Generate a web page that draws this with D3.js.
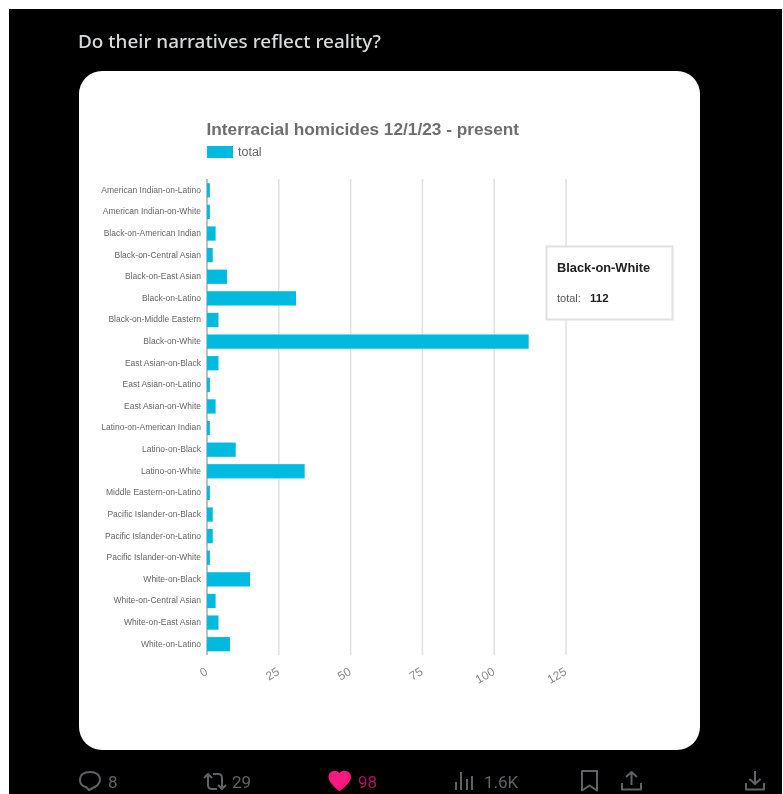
<!DOCTYPE html>
<html><head><meta charset="utf-8">
<script src="https://cdn.jsdelivr.net/npm/d3@7"></script>
<style>html,body{margin:0;padding:0;background:#fff;width:783px;height:794px;overflow:hidden}svg{display:block;filter:blur(0.75px)}</style>
</head><body><svg id="c" width="783" height="794"></svg>
<script>
const categories=["American Indian-on-Latino","American Indian-on-White","Black-on-American Indian","Black-on-Central Asian","Black-on-East Asian","Black-on-Latino","Black-on-Middle Eastern","Black-on-White","East Asian-on-Black","East Asian-on-Latino","East Asian-on-White","Latino-on-American Indian","Latino-on-Black","Latino-on-White","Middle Eastern-on-Latino","Pacific Islander-on-Black","Pacific Islander-on-Latino","Pacific Islander-on-White","White-on-Black","White-on-Central Asian","White-on-East Asian","White-on-Latino"];
const totals=[1,1,3,2,7,31,4,112,4,1,3,1,10,34,1,2,2,1,15,3,4,8];
const xTicks=[0,25,50,75,100,125];
const svg=d3.select("#c");
const barColor="#00bbdf";
svg.append("rect").attr("x",0).attr("y",0).attr("width",783).attr("height",794).attr("fill","#fff");
svg.append("rect").attr("x",9).attr("y",9).attr("width",773).attr("height",785).attr("fill","#000");
svg.append("text").attr("x",78).attr("y",48).attr("font-family","'Noto Sans', sans-serif").attr("font-weight",500).attr("font-size",18).attr("fill","#d8dadb").attr("textLength",303).attr("lengthAdjust","spacingAndGlyphs").text("Do their narratives reflect reality?");
svg.append("rect").attr("x",79).attr("y",71).attr("width",621).attr("height",679).attr("rx",23).attr("fill","#fff");
const x=d3.scaleLinear().domain([0,125]).range([207,566]);
const y=d3.scaleBand().domain(categories).range([179.5,655]).paddingInner(0.34).paddingOuter(0.17);
const grid=svg.append("g");
grid.selectAll("line").data(xTicks).join("line").attr("x1",d=>x(d)).attr("x2",d=>x(d)).attr("y1",179).attr("y2",655).attr("stroke",d=>d===0?"#aaa":"#e0e0e0").attr("stroke-width",1.5);
svg.append("g").selectAll("rect").data(categories).join("rect").attr("x",x(0)).attr("y",d=>y(d)).attr("height",y.bandwidth()).attr("width",(d,i)=>x(totals[i])-x(0)).attr("fill",barColor);
const f="Arial, 'Liberation Sans', sans-serif";
svg.append("g").selectAll("text").data(categories).join("text").attr("x",201).attr("y",d=>y(d)+y.bandwidth()/2+2.4).attr("text-anchor","end").attr("font-family",f).attr("font-size",8.5).attr("fill","#666").text(d=>d);
svg.append("g").selectAll("text").data(xTicks).join("text").attr("transform",d=>`translate(${x(d)+1.5},${674}) rotate(-30)`).attr("text-anchor","end").attr("font-family",f).attr("font-size",12).attr("fill","#888").text(d=>d);
svg.append("text").attr("x",206.5).attr("y",134.5).attr("font-family",f).attr("font-weight","bold").attr("font-size",17.25).attr("fill","#6e6e6e").text("Interracial homicides 12/1/23 - present");
svg.append("rect").attr("x",207).attr("y",146).attr("width",26).attr("height",12).attr("fill",barColor);
svg.append("text").attr("x",238).attr("y",156).attr("font-family",f).attr("font-size",12.5).attr("fill","#666").text("total");
const tip=svg.append("g");
tip.append("rect").attr("x",546.5).attr("y",246.5).attr("width",126).attr("height",73).attr("fill","#fff").attr("stroke","#e0e0e0").attr("stroke-width",2);
tip.append("text").attr("x",557).attr("y",271.5).attr("font-family",f).attr("font-weight","bold").attr("font-size",12.8).attr("fill","#222").text("Black-on-White");
const t2=tip.append("text").attr("x",557).attr("y",302).attr("font-family",f).attr("font-size",11).attr("fill","#555");
t2.append("tspan").text("total:");
t2.append("tspan").attr("x",590).attr("font-weight","bold").attr("font-size",11.5).attr("fill","#222").text("112");
// bottom action bar
const bar=svg.append("g").attr("font-family","Roboto, sans-serif").attr("font-size",17);
const grey="#5f6266";
const icon=(d,c,fill)=>bar.append("path").attr("d",d).attr("fill",fill?c:"none").attr("stroke",c).attr("stroke-width",2).attr("stroke-linejoin","round");
icon("M89 790 L86 787 C81 786 80 783 80 780 C80 775 84 772 90 772 C96 772 100 775 100 780 C100 785 95 787 89 790 Z",grey);
bar.append("text").attr("x",108).attr("y",788).attr("fill",grey).text("8");
icon("M204 778 L208 774 L212 778 M208 774 V785 Q208 789 212 789 H217 M226 785 L222 789 L218 785 M222 789 V778 Q222 774 218 774 H213",grey);
bar.append("text").attr("x",232).attr("y",788).attr("fill",grey).text("29");
icon("M339.5 790 C333 785 329.5 781 329.5 777 C329.5 771 337 770 339.5 775 C342 770 350 771 350 777 C350 781 346 785 339.5 790 Z","#f91880",true);
bar.append("text").attr("x",358).attr("y",788).attr("fill","#b5115a").text("98");
icon("M456 790 V782 M461 790 V772 M467 790 V779 M472 790 V776",grey);
bar.append("text").attr("x",484).attr("y",788).attr("fill",grey).text("1.6K");
icon("M582 790.5 V771 H597 V790.5 L589.5 785.5 Z",grey);
icon("M631.5 785 V772 M626 777 L631.5 772 L637 777 M622 783 V789.5 H641 V783",grey);
icon("M755 771 V784 M749.5 779 L755 784 L760.5 779 M746 783 V789.5 H764 V783",grey);
</script></body></html>
